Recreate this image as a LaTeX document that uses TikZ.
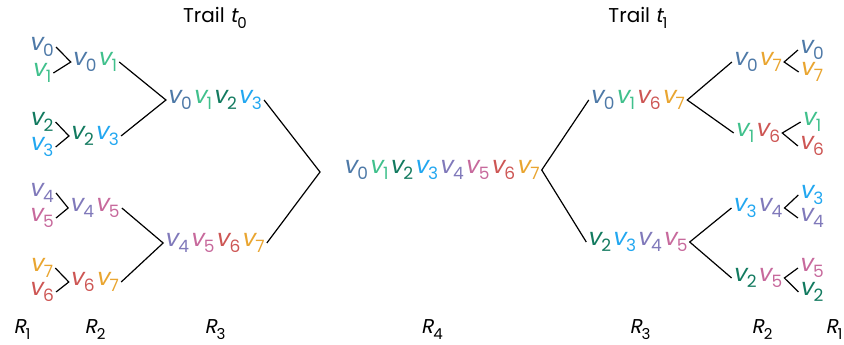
\documentclass[tikz,border=0pt]{standalone}
\usepackage{fontspec}
\setmainfont{Poppins}
\newfontfamily\slantfont{Poppins}[FakeSlant=0.2]
\usetikzlibrary{positioning}
\definecolor{c0}{HTML}{4E79A7}
\definecolor{c1}{HTML}{40C08C}
\definecolor{c2}{HTML}{127A5F}
\definecolor{c3}{HTML}{22A7F0}
\definecolor{c4}{HTML}{8079BA}
\definecolor{c5}{HTML}{C7699C}
\definecolor{c6}{HTML}{CD5654}
\definecolor{c7}{HTML}{E9A530}
\newcommand{\subx}[1]{\raisebox{-6pt}{\normalfont\fontsize{15}{15}\selectfont #1}}
\newcommand{\vsub}[1]{\raisebox{-6.5pt}{\normalfont\fontsize{17}{17}\selectfont #1}}
\newcommand{\vx}[1]{{\color{c#1}\slantfont v\kern0.5pt\vsub{#1}\kern1pt}}
\newcommand{\rx}[1]{{\slantfont R\subx{#1}}}

\begin{document}
\begin{tikzpicture}[x=1pt, y=-1pt,
    lbl/.style={inner sep=1pt, font=\fontsize{24}{28}\selectfont},
    round/.style={inner sep=1pt, font=\fontsize{20}{24}\selectfont, text=black},
    edge/.style={line width=1.2pt, black},
  ]
  \useasboundingbox (0,0) rectangle (844,345);
  % titles
  \node[round] (ta) at (215,18) {Trail {\slantfont t}\subx{0}};
  \node[round] (tb) at (638,18) {Trail {\slantfont t}\subx{1}};
  % trail t0: leaves
  \node[lbl] (a0) at (42,47)  {\vx0};
  \node[lbl] (a1) at (42,73)  {\vx1};
  \node[lbl] (a2) at (42,122) {\vx2};
  \node[lbl] (a3) at (42,147) {\vx3};
  \node[lbl] (a4) at (42,193) {\vx4};
  \node[lbl] (a5) at (42,218) {\vx5};
  \node[lbl] (a7) at (42,268) {\vx7};
  \node[lbl] (a6) at (42,292) {\vx6};
  % trail t0: pairs and quads
  \node[lbl] (a01) at (95,62)  {\vx0\vx1};
  \node[lbl] (a23) at (95,136) {\vx2\vx3};
  \node[lbl] (a45) at (95,208) {\vx4\vx5};
  \node[lbl] (a67) at (95,282) {\vx6\vx7};
  \node[lbl] (a0123) at (215,100) {\vx0\vx1\vx2\vx3};
  \node[lbl] (a4567) at (215,243) {\vx4\vx5\vx6\vx7};
  \coordinate (ajoin) at (320,172);
  % whole set
  \node[lbl] (all) at (442,170) {\vx0\vx1\vx2\vx3\vx4\vx5\vx6\vx7};
  % trail t1: quads and pairs
  \node[lbl] (b0167) at (638,100) {\vx0\vx1\vx6\vx7};
  \node[lbl] (b2345) at (638,242) {\vx2\vx3\vx4\vx5};
  \node[lbl] (b07) at (758,62)  {\vx0\vx7};
  \node[lbl] (b16) at (758,133) {\vx1\vx6};
  \node[lbl] (b34) at (758,208) {\vx3\vx4};
  \node[lbl] (b25) at (758,278) {\vx2\vx5};
  % trail t1: leaves
  \node[lbl] (b0) at (812,50)  {\vx0};
  \node[lbl] (b7) at (812,72)  {\vx7};
  \node[lbl] (b1) at (812,122) {\vx1};
  \node[lbl] (b6) at (812,146) {\vx6};
  \node[lbl] (b3) at (812,195) {\vx3};
  \node[lbl] (b4) at (812,218) {\vx4};
  \node[lbl] (b5) at (812,268) {\vx5};
  \node[lbl] (b2) at (812,292) {\vx2};
  % rounds
  \node[round] (r1a) at (22,330)  {\rx1};
  \node[round] (r2a) at (95,330)  {\rx2};
  \node[round] (r3a) at (215,330) {\rx3};
  \node[round] (r4)  at (432,330) {\rx4};
  \node[round] (r3b) at (640,330) {\rx3};
  \node[round] (r2b) at (762,330) {\rx2};
  \node[round] (r1b) at (834,330) {\rx1};
  % edges, trail t0
  \draw[edge] (a0.east) -- (a01.west) -- (a1.east);
  \draw[edge] (a2.east) -- (a23.west) -- (a3.east);
  \draw[edge] (a4.east) -- (a45.west) -- (a5.east);
  \draw[edge] (a7.east) -- (a67.west) -- (a6.east);
  \draw[edge] (a01.east) -- (a0123.west) -- (a23.east);
  \draw[edge] (a45.east) -- (a4567.west) -- (a67.east);
  \draw[edge] (a0123.east) -- (ajoin) -- (a4567.east);
  % edges, trail t1
  \draw[edge] (b0167.west) -- (all.east) -- (b2345.west);
  \draw[edge] (b07.west) -- (b0167.east) -- (b16.west);
  \draw[edge] (b34.west) -- (b2345.east) -- (b25.west);
  \draw[edge] (b0.west) -- (b07.east) -- (b7.west);
  \draw[edge] (b1.west) -- (b16.east) -- (b6.west);
  \draw[edge] (b3.west) -- (b34.east) -- (b4.west);
  \draw[edge] (b5.west) -- (b25.east) -- (b2.west);
\end{tikzpicture}
\end{document}
